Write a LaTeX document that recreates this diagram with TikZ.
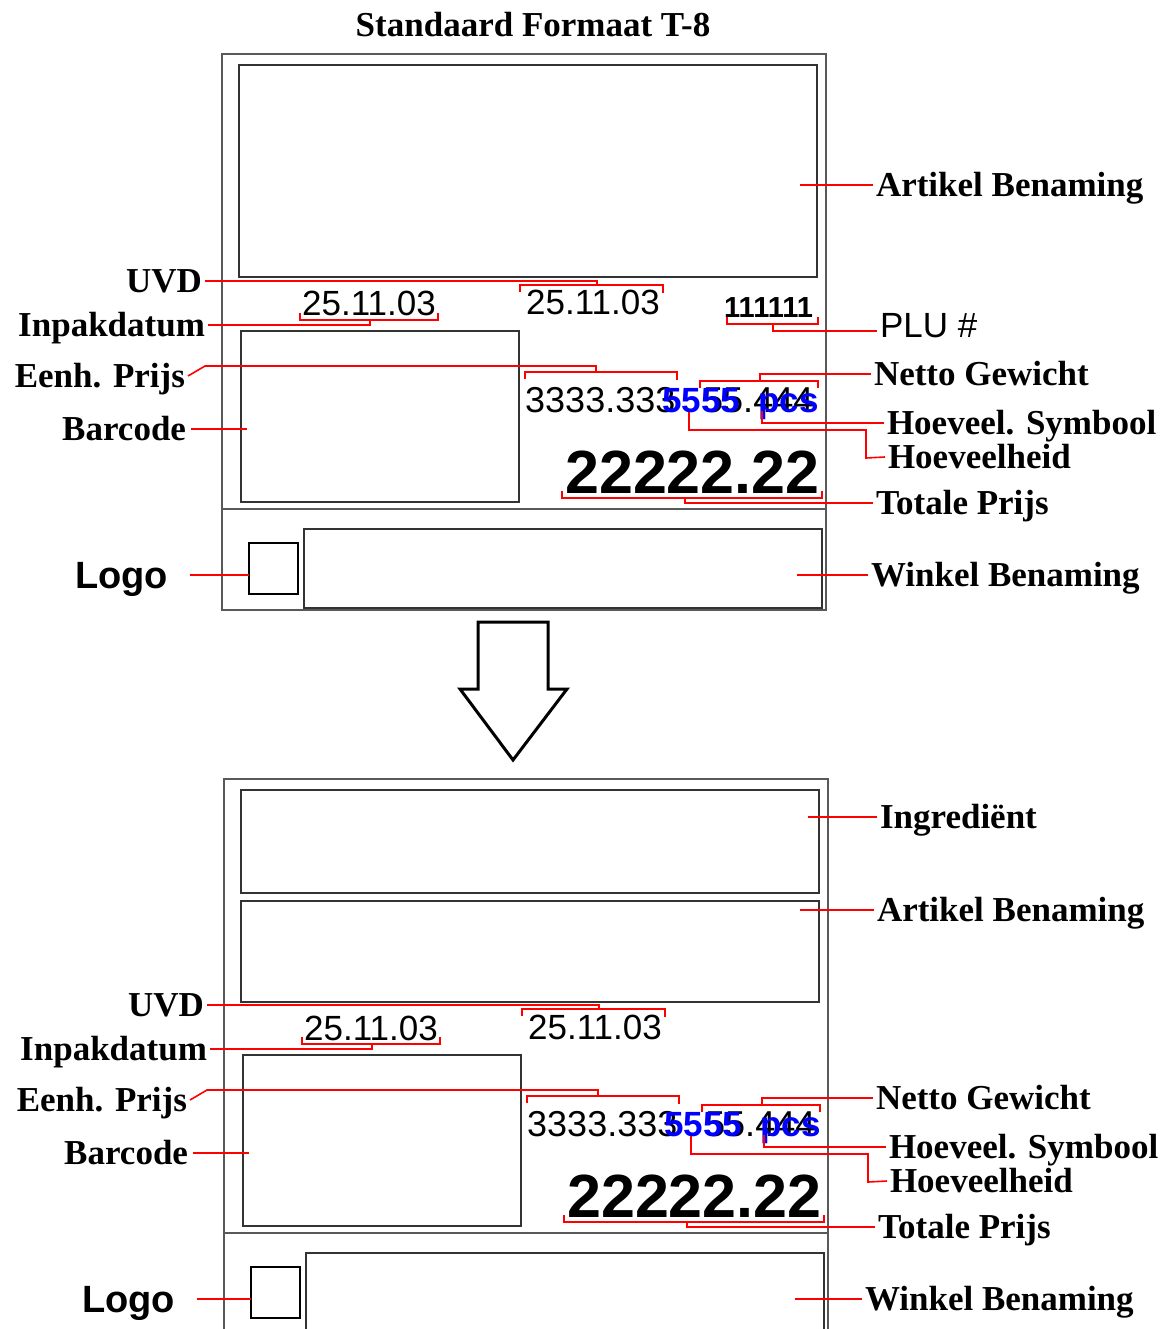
\documentclass[tikz,border=0pt]{standalone}
\usepackage{fontspec}
\setmainfont{Liberation Serif}
\setsansfont{Liberation Sans}
\usetikzlibrary{calc}
\tikzset{
  frame/.style={draw=black!65, line width=2.2pt},
  box/.style={draw=black!80, line width=2pt},
  lead/.style={draw=red, line width=1.6pt, line join=miter},
  lab/.style={font=\bfseries\fontsize{35}{40}\selectfont, inner sep=0pt, outer xsep=3pt, outer ysep=0pt, text height=23pt, text depth=0pt},
  lablogo/.style={font=\sffamily\bfseries\fontsize{38}{44}\selectfont, inner sep=0pt, outer xsep=3pt, outer ysep=0pt, text height=27pt, text depth=0pt},
  num/.style={font=\sffamily\fontsize{35}{40}\selectfont, inner sep=0pt, anchor=base west},
  numb/.style={font=\sffamily\fontsize{36}{40}\selectfont, inner sep=0pt, anchor=base west},
  numsm/.style={font=\sffamily\bfseries\fontsize{29}{34}\selectfont, inner sep=0pt, anchor=base west},
  bluetxt/.style={font=\sffamily\bfseries\fontsize{35}{40}\selectfont, text=blue, inner sep=0pt, anchor=base west},
  bigtxt/.style={font=\sffamily\bfseries\fontsize{61}{70}\selectfont, inner sep=0pt, anchor=base west},
  sqbox/.style={draw=black, line width=1.6pt, inner sep=0pt, outer sep=0pt, minimum width=49pt, minimum height=51pt},
  titletxt/.style={font=\bfseries\fontsize{35}{40}\selectfont, inner sep=0pt}
}
% #1 name prefix, #2 Winkel label x, #3 Winkel leader start x,
% #4 Logo label east x, #5 gap between Logo label and its leader
\newcommand\panelcore[5]{%
  % boxes
  \draw[box] (241,331) rectangle (519,502);
  \draw[frame] (222,509) -- (826,509);
  \node[sqbox] (#1logo) at (273.5,568.5) {};
  \draw[box] (304,529) rectangle (822,608);
  % field texts
  \node[num] (#1d1) at (302,316) {25.11.03};
  \node[num] (#1d2) at (526,315) {25.11.03};
  \node[numb] (#1pr) at (525,412) {3333.333};
  \node[numb] (#1nw) at (703,412) {55.444};
  \node[bluetxt] (#1qty) at (662,412) {5555};
  \node[bluetxt] (#1sym) at (758,412) {pcs};
  \node[bigtxt] (#1tot) at (565,493) {22222.22};
  % labels left
  \node[lab, anchor=east] (#1uvd) at (205,281) {UVD};
  \node[lab, anchor=east] (#1inp) at (208,325) {Inpakdatum};
  \node[lab, anchor=east] (#1eh) at (188,376) {Eenh. Prijs};
  \node[lab, anchor=east] (#1bcl) at (189,429) {Barcode};
  \node[lablogo, anchor=east] (#1logol) at (#4,575) {Logo};
  % labels right
  \node[lab, anchor=west] (#1nwl) at (871,374) {Netto Gewicht};
  \node[lab, anchor=west] (#1syl) at (884,423) {Hoeveel. Symbool};
  \node[lab, anchor=west] (#1hvl) at (885,457) {Hoeveelheid};
  \node[lab, anchor=west] (#1tpl) at (873,503) {Totale Prijs};
  \node[lab, anchor=west] (#1wkl) at (#2,575) {Winkel Benaming};
  % brackets and leaders
  \draw[lead] (520,292) -- (520,285) -- (663,285) -- (663,293);
  \draw[lead] (#1uvd.east) -- (597,281) -- (597,285);
  \draw[lead] (300,313) -- (300,320) -- (438,320) -- (438,313);
  \draw[lead] (#1inp.east) -- (370,325) -- (370,320);
  \draw[lead] (525,379) -- (525,372) -- (677,372) -- (677,380);
  \draw[lead] (#1eh.east) -- (205,366) -- (596,366) -- (596,372);
  \draw[lead] ($(#1bcl.east)+(2,0)$) -- (247,429);
  \draw[lead] (700,388) -- (700,381) -- (818,381) -- (818,388);
  \draw[lead] (760,381) -- (760,374) -- (#1nwl.west);
  \draw[lead] (762,411) -- (762,423) -- (#1syl.west);
  \draw[lead] (689,412) -- (689,430) -- (866,430) -- (866,458) -- (#1hvl.west);
  \draw[lead] (562,491) -- (562,498) -- (822,498) -- (822,491);
  \draw[lead] (685,498) -- (685,503) -- (#1tpl.west);
  \draw[lead] ($(#1logol.east)+(#5,0)$) -- (#1logo.west |- #1logol.east);
  \draw[lead] (#3,575) -- (#1wkl.west);
}
\begin{document}
\begin{tikzpicture}[x=1pt, y=-1pt]
  \useasboundingbox[fill=white] (0,0) rectangle (1167,1329);
  \node[titletxt] (title) at (533,25) {Standaard Formaat T-8};
  % ---------- top panel ----------
  \draw[frame] (222,54) rectangle (826,610);
  \draw[box] (239,65) rectangle (817,277);
  \panelcore{t}{868}{797}{171}{19}
  \node[numsm] (tplu) at (724,317) {111111};
  \node[lab, anchor=west] (tart) at (873,185) {Artikel Benaming};
  \node[font=\sffamily\fontsize{35}{40}\selectfont, inner sep=0pt, outer xsep=3pt, anchor=west] (tplul) at (877,326) {PLU \#};
  \draw[lead] (800,185) -- (tart.west);
  \draw[lead] (727,317) -- (727,324) -- (818,324) -- (818,317);
  \draw[lead] (773,324) -- (773,331) -- (tplul.west |- 773,331);
  % ---------- arrow ----------
  \draw[line width=3pt, line join=miter, miter limit=10]
    (478,622) -- (548,622) -- (548,689) -- (567,689) -- (513,760) -- (460,689) -- (478,689) -- cycle;
  % ---------- bottom panel ----------
  \draw[frame] (224,1340) -- (224,779) -- (828,779) -- (828,1340);
  \begin{scope}[shift={(2,724)}]
    \draw[box] (239,66) rectangle (817,169);
    \draw[box] (239,177) rectangle (817,278);
    \panelcore{b}{860}{793}{176}{19}
    \node[lab, anchor=west] (bing) at (875,93) {Ingrediënt};
    \node[lab, anchor=west] (bart) at (872,186) {Artikel Benaming};
    \draw[lead] (806,93) -- (bing.west);
    \draw[lead] (798,186) -- (bart.west);
  \end{scope}
\end{tikzpicture}
\end{document}
